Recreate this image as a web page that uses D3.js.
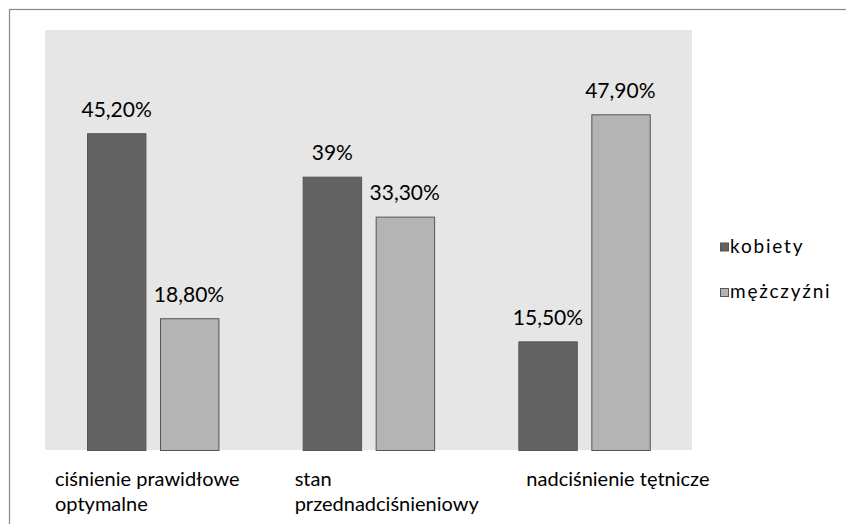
<!DOCTYPE html>
<html>
<head>
<meta charset="utf-8">
<script src="https://cdn.jsdelivr.net/npm/d3@7"></script>
<style>
  html, body { margin: 0; padding: 0; background: #fff; }
  svg { display: block; }
  text { font-family: Lato, "Open Sans", sans-serif; fill: #000; }
</style>
</head>
<body>
<svg id="chart" width="846" height="524"></svg>
<script>
// Blood pressure categories (Polish labels, wrapped onto lines)
const categories = ["ciśnienie prawidłowe optymalne", "stan przednadciśnieniowy", "nadciśnienie tętnicze"];
const categoryLines = [["ciśnienie prawidłowe", "optymalne"], ["stan", "przednadciśnieniowy"], ["nadciśnienie tętnicze"]];
const seriesNames = ["kobiety", "mężczyźni"];
const kobiety = [45.2, 39, 15.5];
const mezczyzni = [18.8, 33.3, 47.9];
const valueLabels = [["45,20%", "18,80%"], ["39%", "33,30%"], ["15,50%", "47,90%"]];

const colors = ["#636363", "#b4b4b4"];

const svg = d3.select("#chart");
const W = 846, H = 524;

// outer frame
svg.append("rect")
  .attr("x", 9.5).attr("y", 9.5)
  .attr("width", W + 20).attr("height", H + 20)
  .attr("fill", "#fff").attr("stroke", "#888").attr("stroke-width", 1.2);

const plot = { left: 45, right: 692, top: 30, bottom: 450.5 };

// plot background
svg.append("rect")
  .attr("x", plot.left).attr("y", plot.top)
  .attr("width", plot.right - plot.left).attr("height", 450 - plot.top)
  .attr("fill", "#e6e6e6");

const x0 = d3.scaleBand().domain(categories).range([plot.left, plot.right]).paddingInner(0).paddingOuter(0);
const x1 = d3.scaleBand().domain(seriesNames).range([0, x0.bandwidth()]).paddingInner(0.193).paddingOuter(0.586);
const y = d3.scaleLinear().domain([0, 60]).range([plot.bottom, plot.top]);

const rows = categories.map((c, i) => ({
  cat: c,
  vals: [
    { s: seriesNames[0], v: kobiety[i], label: valueLabels[i][0] },
    { s: seriesNames[1], v: mezczyzni[i], label: valueLabels[i][1] }
  ]
}));

const groups = svg.append("g").selectAll("g")
  .data(rows).join("g")
  .attr("transform", d => `translate(${x0(d.cat)},0)`);

groups.selectAll("rect")
  .data(d => d.vals).join("rect")
  .attr("x", d => Math.round(x1(d.s)) + 0.5)
  .attr("y", d => y(d.v))
  .attr("width", x1.bandwidth())
  .attr("height", d => y(0) - y(d.v))
  .attr("fill", (d, i) => colors[i])
  .attr("stroke", "#555")
  .attr("stroke-width", 1);

groups.selectAll("text.val")
  .data(d => d.vals).join("text")
  .attr("class", "val")
  .attr("x", d => x1(d.s) + x1.bandwidth() / 2)
  .attr("y", d => y(d.v) - 17)
  .attr("text-anchor", "middle")
  .attr("font-size", 21)
  .text(d => d.label);

// category labels, left aligned under each group
const labelDx = [10, 34, 50];
const cats = svg.append("g").selectAll("text")
  .data(categories).join("text")
  .attr("x", (d, i) => x0(d) + labelDx[i])
  .attr("y", 486)
  .attr("font-size", 20);
cats.each(function (d, i) {
  d3.select(this).selectAll("tspan")
    .data(categoryLines[i]).join("tspan")
    .attr("x", x0(d) + labelDx[i])
    .attr("dy", (t, j) => j === 0 ? 0 : 25)
    .text(t => t);
});

// legend
const legend = svg.append("g").attr("transform", "translate(720,0)");
const legendY = [242.5, 288];
seriesNames.forEach((s, i) => {
  legend.append("rect")
    .attr("x", 0.5).attr("y", legendY[i] + 0.5)
    .attr("width", 8).attr("height", 8)
    .attr("fill", colors[i]).attr("stroke", "#555").attr("stroke-width", 1);
  legend.append("text")
    .attr("x", 10).attr("y", legendY[i] + 10)
    .attr("font-size", 19)
    .attr("letter-spacing", 1.8)
    .text(s);
});
</script>
</body>
</html>
